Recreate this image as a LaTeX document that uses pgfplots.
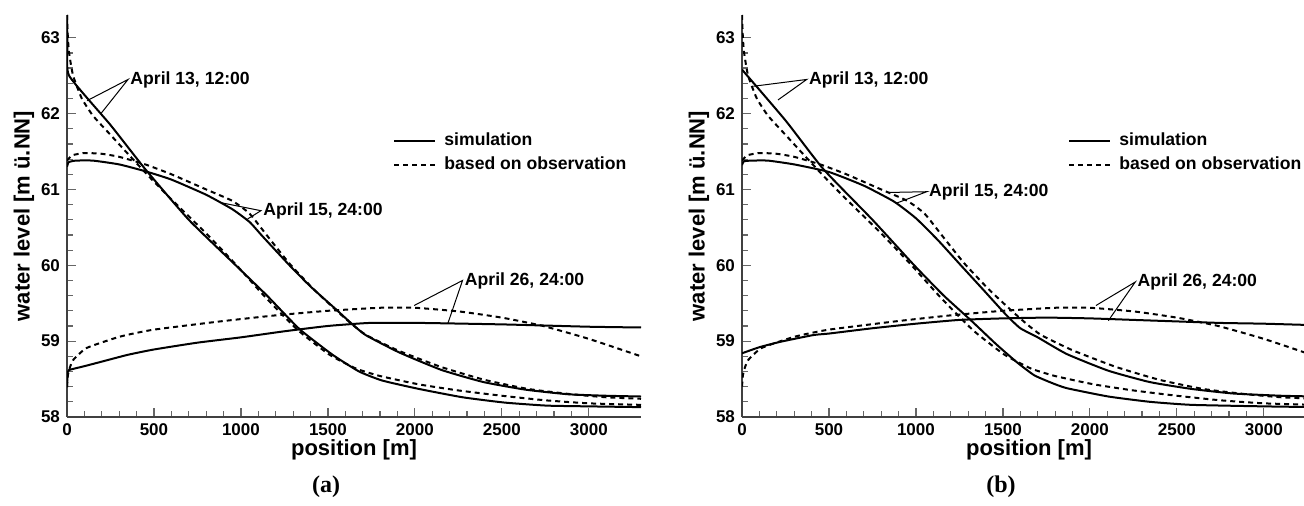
\documentclass[border=0pt]{standalone}
\usepackage{pgfplots}
\pgfplotsset{compat=1.18}
\usepackage{pgfplotstable}
\usepackage{fontspec}
\setmainfont{Liberation Sans}
\newfontfamily\capfont{Liberation Serif}

\newcommand{\tickfont}{\bfseries\fontsize{8.5}{10}\selectfont}
\newcommand{\notefont}{\bfseries\fontsize{8.8}{10}\selectfont}
\newcommand{\labfont}{\bfseries\fontsize{11}{12}\selectfont}

% observed profiles are the same in both panels
\pgfplotstableread{
x y
0 63.30
5 63.00
12 62.80
35 62.50
85 62.20
150 61.97
250 61.72
350 61.47
480 61.15
600 60.87
800 60.42
975 60.00
1140 59.58
1330 59.14
1510 58.82
1660 58.64
1800 58.54
2023 58.43
2250 58.35
2500 58.28
2750 58.22
3000 58.18
3300 58.16
}\obsA
\pgfplotstableread{
x y
0 61.38
30 61.45
100 61.48
200 61.47
300 61.43
450 61.33
600 61.20
800 61.00
950 60.85
1050 60.68
1161 60.36
1280 60.02
1420 59.68
1560 59.38
1640 59.22
1720 59.08
1900 58.88
2150 58.66
2400 58.49
2650 58.37
2900 58.30
3100 58.26
3300 58.24
}\obsB
\pgfplotstableread{
x y
0 58.40
5 58.55
15 58.64
35 58.75
113 58.91
305 59.06
495 59.15
880 59.26
1200 59.34
1500 59.40
1800 59.44
2000 59.44
2259 59.39
2500 59.31
2737 59.20
3000 59.03
3300 58.80
}\obsC

\tikzset{note/.style={anchor=west, font=\notefont, inner sep=1pt}}

\pgfplotsset{
  riverax/.style={
    scale only axis, width=287pt, height=201pt,
    xmin=0, xmax=3300, ymin=58, ymax=63.3,
    axis x line=bottom, axis y line=left,
    axis line style={black!75, line width=0.7pt, -},
    xtick={0,500,...,3000}, ytick={58,...,63},
    minor x tick num=4, minor y tick num=4,
    tick align=inside,
    major tick length=4.5pt, minor tick length=3pt,
    tick style={black!60, line width=0.6pt},
    tick label style={font=\tickfont},
    /pgf/number format/assume math mode=true,
    /pgf/number format/1000 sep={},
    every axis x label/.style={at={(axis description cs:0.5,0)},anchor=center,yshift=-16.5pt},
    every axis y label/.style={at={(axis description cs:-0.075,0.5)},anchor=center,rotate=90},
    label style={font=\labfont},
    xlabel={position [m]}, ylabel={water level [m ü.NN]},
    legend style={at={(0.568,0.718)}, anchor=north west, draw=none, fill=none,
      font=\notefont, inner sep=0pt, row sep=0pt, column sep=2.5pt,
      nodes={inner sep=1.5pt, text height=7pt, text depth=2pt}},
    legend cell align=left,
    legend image code/.code={\draw[##1] (0pt,0pt) -- (20.5pt,0pt);},
  },
  sim/.style={black, line width=1pt, smooth, tension=0.3},
  obs/.style={black, line width=1pt, dash pattern=on 2.5pt off 2pt, smooth, tension=0.3},
}

\begin{document}
\begin{tikzpicture}
\useasboundingbox (0,0) rectangle (652pt,253pt);

% ---------------- (a)
\begin{axis}[riverax, at={(33.5pt,44.5pt)}, anchor=south west]
\addlegendimage{sim}\addlegendentry{simulation}
\addlegendimage{obs}\addlegendentry{based on observation}
\addplot[obs, forget plot] table {\obsA};
\addplot[obs, forget plot] table {\obsB};
\addplot[obs, forget plot] table {\obsC};
\addplot[sim, forget plot] coordinates {
 (0,63.30) (3,62.90) (12,62.50) (250,61.85) (449,61.27) (700,60.60) (970,60.00)
 (1150,59.60) (1336,59.16) (1527,58.82) (1679,58.60) (1813,58.48)
 (2023,58.37) (2274,58.26) (2516,58.19) (2758,58.15) (3000,58.14) (3300,58.13)};
\addplot[sim, forget plot] coordinates {
 (0,61.30) (10,61.36) (50,61.38) (150,61.38) (300,61.33) (450,61.24) (600,61.13)
 (800,60.93) (950,60.74) (1050,60.57) (1125,60.38) (1279,60.00) (1400,59.72)
 (1546,59.42) (1632,59.24) (1717,59.08) (1911,58.85) (2153,58.62) (2395,58.46)
 (2637,58.36) (2879,58.30) (3100,58.28) (3300,58.27)};
\addplot[sim, forget plot] coordinates {
 (0,58.39) (4,58.59) (12,58.62) (100,58.67) (200,58.73) (350,58.82) (500,58.89)
 (750,58.98) (1000,59.05) (1250,59.13) (1500,59.20) (1740,59.24) (2032,59.24)
 (2516,59.22) (3000,59.19) (3300,59.18)};
\node[note] at (axis cs:351,62.45) {April 13, 12:00};
\draw[line width=0.5pt] (axis cs:115,62.17) -- (axis cs:351,62.45) -- (axis cs:195,62.00);
\node[note] at (axis cs:1115,60.72) {April 15, 24:00};
\draw[line width=0.5pt] (axis cs:875,60.83) -- (axis cs:1115,60.72) -- (axis cs:1038,60.61);
\node[note] at (axis cs:2274,59.80) {April 26, 24:00};
\draw[line width=0.5pt] (axis cs:1996,59.47) -- (axis cs:2274,59.80) -- (axis cs:2189,59.23);
\end{axis}

% ---------------- (b)
\begin{axis}[riverax, at={(371pt,44.5pt)}, anchor=south west]
\addlegendimage{sim}\addlegendentry{simulation}
\addlegendimage{obs}\addlegendentry{based on observation}
\addplot[obs, forget plot] table {\obsA};
\addplot[obs, forget plot] table {\obsB};
\addplot[obs, forget plot] table {\obsC};
\addplot[sim, forget plot] coordinates {
 (0,62.58) (250,61.91) (467,61.27) (750,60.60) (990,60.00) (1160,59.60)
 (1318,59.27) (1461,58.96) (1581,58.72) (1680,58.55) (1780,58.45) (1867,58.38)
 (2106,58.27) (2345,58.20) (2584,58.16) (3000,58.14) (3300,58.13)};
\addplot[sim, forget plot] coordinates {
 (0,61.32) (10,61.37) (50,61.38) (150,61.38) (300,61.33) (500,61.23) (700,61.05)
 (874,60.84) (1000,60.62) (1127,60.33) (1258,60.00) (1390,59.67) (1521,59.34)
 (1600,59.17) (1700,59.05) (1867,58.83) (2106,58.61) (2345,58.46) (2584,58.37)
 (2822,58.31) (3100,58.28) (3300,58.27)};
\addplot[sim, forget plot] coordinates {
 (0,58.84) (100,58.92) (218,58.99) (410,59.08) (500,59.10) (750,59.17) (1000,59.23)
 (1250,59.28) (1500,59.30) (1750,59.31) (2000,59.30) (2250,59.28) (2500,59.26)
 (2750,59.24) (3000,59.23) (3300,59.21)};
\node[note] at (axis cs:372,62.45) {April 13, 12:00};
\draw[line width=0.5pt] (axis cs:65,62.36) -- (axis cs:372,62.45) -- (axis cs:207,62.18);
\node[note] at (axis cs:1062,60.97) {April 15, 24:00};
\draw[line width=0.5pt] (axis cs:840,60.96) -- (axis cs:1062,60.97) -- (axis cs:889,60.82);
\node[note] at (axis cs:2261,59.78) {April 26, 24:00};
\draw[line width=0.5pt] (axis cs:2035,59.47) -- (axis cs:2261,59.78) -- (axis cs:2106,59.27);
\end{axis}

\node[font=\capfont\bfseries\fontsize{12}{13}\selectfont] at (163pt,9.5pt) {(a)};
\node[font=\capfont\bfseries\fontsize{12}{13}\selectfont] at (500.5pt,9.5pt) {(b)};
\end{tikzpicture}
\end{document}
